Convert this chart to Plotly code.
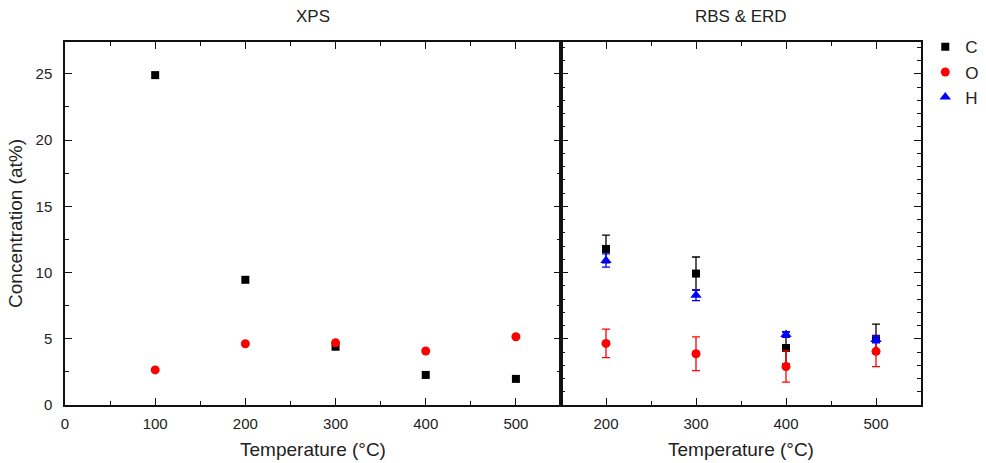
import plotly.graph_objects as go
from plotly.subplots import make_subplots

# XPS data
xps_temp = [100, 200, 300, 400, 500]
xps_C = [24.9, 9.45, 4.4, 2.27, 1.97]
xps_O = [2.65, 4.62, 4.7, 4.08, 5.15]

# RBS & ERD data
rbs_temp = [200, 300, 400, 500]
rbs_C = [11.78, 9.92, 4.3, 5.0]
rbs_C_err = [1.05, 1.25, 1.2, 1.1]
rbs_O = [4.65, 3.87, 2.9, 4.05]
rbs_O_err = [1.08, 1.27, 1.18, 1.15]
rbs_H = [10.9, 8.28, 5.32, 4.95]
rbs_H_err = [0.5, 0.4, 0.22, 0.25]

FONT = "Liberation Sans, Arial, sans-serif"

fig = make_subplots(rows=1, cols=2, shared_yaxes=True, horizontal_spacing=0,
                    column_widths=[496/856, 360/856])

mk_C = dict(symbol="square", size=8, color="black")
mk_O = dict(symbol="circle", size=9, color="red")
mk_H = dict(symbol="triangle-up", size=10, color="blue")

fig.add_trace(go.Scatter(x=xps_temp, y=xps_C, mode="markers", marker=mk_C, name="C",
                         legendgroup="C"), 1, 1)
fig.add_trace(go.Scatter(x=xps_temp, y=xps_O, mode="markers", marker=mk_O, name="O",
                         legendgroup="O"), 1, 1)

fig.add_trace(go.Scatter(x=rbs_temp, y=rbs_C, mode="markers", marker=mk_C, name="C",
                         legendgroup="C", showlegend=False,
                         error_y=dict(type="data", array=rbs_C_err, color="black",
                                      thickness=1.3, width=4)), 1, 2)
fig.add_trace(go.Scatter(x=rbs_temp, y=rbs_O, mode="markers", marker=mk_O, name="O",
                         legendgroup="O", showlegend=False,
                         error_y=dict(type="data", array=rbs_O_err, color="red",
                                      thickness=1.3, width=4)), 1, 2)
fig.add_trace(go.Scatter(x=rbs_temp, y=rbs_H, mode="markers", marker=mk_H, name="H",
                         legendgroup="H", showlegend=True,
                         error_y=dict(type="data", array=rbs_H_err, color="blue",
                                      thickness=1.3, width=4)), 1, 2)

axis_common = dict(showline=True, linecolor="#111", linewidth=1.5, mirror="ticks",
                   ticks="inside", ticklen=7, tickwidth=1.3, tickcolor="#111",
                   showgrid=False, zeroline=False, automargin=False,
                   tickfont=dict(family=FONT, size=15, color="#222"),
                   minor=dict(ticks="inside", ticklen=4, tickwidth=1.3, tickcolor="#111"))

fig.update_xaxes(**axis_common)
fig.update_yaxes(**axis_common)

fig.update_xaxes(range=[0, 550], tickvals=[0, 100, 200, 300, 400, 500],
                 minor_dtick=50, minor_tick0=0, ticklabelstandoff=4,
                 title=dict(text="Temperature (°C)", font=dict(family=FONT, size=19, color="#222"),
                            standoff=12), row=1, col=1)
fig.update_xaxes(range=[150, 550], tickvals=[200, 300, 400, 500],
                 minor_dtick=50, minor_tick0=0, ticklabelstandoff=4,
                 title=dict(text="Temperature (°C)", font=dict(family=FONT, size=19, color="#222"),
                            standoff=12), row=1, col=2)
fig.update_yaxes(range=[0, 27.4], tickvals=[0, 5, 10, 15, 20, 25], minor_dtick=2.5,
                 minor_tick0=0, ticklabelstandoff=8,
                 title=dict(text="Concentration (at%)", font=dict(family=FONT, size=19, color="#222"),
                            standoff=8), row=1, col=1)
fig.update_yaxes(range=[0, 27.4], showticklabels=False, row=1, col=2)

fig.add_annotation(text="XPS", x=0.5, xref="x domain", y=1, yref="paper", yanchor="bottom",
                   yshift=14, showarrow=False, font=dict(family=FONT, size=17, color="#222"))
fig.add_annotation(text="RBS & ERD", x=0.5, xref="x2 domain", y=1, yref="paper", yanchor="bottom",
                   yshift=14, showarrow=False, font=dict(family=FONT, size=17, color="#222"))

fig.update_layout(
    width=986, height=463,
    margin=dict(l=65, r=65, t=42, b=58, autoexpand=False),
    paper_bgcolor="white", plot_bgcolor="white",
    showlegend=True,
    legend=dict(x=1.005, xanchor="left", y=1.035, yanchor="top", itemwidth=30,
                font=dict(family=FONT, size=17, color="#222"), tracegroupgap=0,
                bgcolor="rgba(0,0,0,0)"),
)

fig.write_html("out.html")
